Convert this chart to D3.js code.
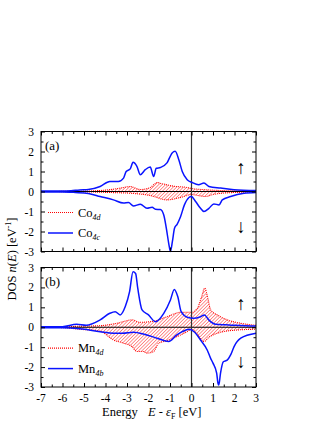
<!DOCTYPE html>
<html>
<head>
<meta charset="utf-8">
<script src="https://cdn.jsdelivr.net/npm/d3@7"></script>
<style>
  body { margin: 0; background: #fff; }
  svg text { font-family: "Liberation Serif", "DejaVu Serif", serif; fill: #000; }
</style>
</head>
<body>
<svg width="327" height="423"></svg>
<script>
// energy axis
var xTicks = [-7, -6, -5, -4, -3, -2, -1, 0, 1, 2, 3];
var yTicks = [-3, -2, -1, 0, 1, 2, 3];

// panel (a): Co 4c (blue) and Co 4d (red hatched), [E, DOS]
var co4cUp = [[-7,0.02],[-6,0.02],[-5.6,0.04],[-5.2,0.08],[-4.8,0.1],[-4.25,0.25],[-3.8,0.5],[-3.4,0.5],[-3.16,0.67],[-3.04,1.0],[-2.85,1.13],[-2.72,1.46],[-2.54,1.26],[-2.38,0.84],[-2.15,1.09],[-1.92,1.22],[-1.76,0.75],[-1.64,1.16],[-1.45,1.2],[-1.14,1.43],[-0.9,1.93],[-0.76,2.01],[-0.59,1.59],[-0.43,1.0],[-0.2,0.59],[0.03,0.45],[0.33,0.34],[0.58,0.42],[0.81,0.25],[1.36,0.17],[1.98,0.09],[3,0.05]];
var co4cDn = [[-7,-0.02],[-6,-0.02],[-5.4,-0.05],[-4.8,-0.1],[-4.25,-0.25],[-3.63,-0.42],[-3.16,-0.58],[-2.93,-0.55],[-2.7,-0.72],[-2.38,-0.64],[-2.07,-0.84],[-1.83,-0.79],[-1.68,-0.89],[-1.45,-0.9],[-1.29,-1.17],[-1.17,-1.84],[-1.06,-2.59],[-0.98,-3.0],[-0.89,-2.51],[-0.79,-1.84],[-0.67,-1.64],[-0.51,-1.26],[-0.33,-0.67],[-0.12,-0.3],[-0.01,-0.25],[0.19,-0.5],[0.39,-0.8],[0.58,-1.0],[0.81,-0.84],[1.04,-0.62],[1.28,-0.67],[1.43,-0.42],[1.82,-0.25],[2.44,-0.09],[3,-0.05]];
var co4dUp = [[-7,0],[-5.5,0.01],[-4.25,0.05],[-3.6,0.12],[-3.16,0.2],[-2.85,0.25],[-2.38,0.1],[-1.92,0.2],[-1.6,0.45],[-1.4,0.4],[-0.86,0.27],[-0.2,0.2],[0,0.15],[0.8,0.08],[2,0.03],[3,0.02]];
var co4dDn = [[-7,0],[-5.5,-0.01],[-3.8,-0.05],[-2.7,-0.1],[-1.92,-0.2],[-1.14,-0.42],[-0.51,-0.3],[0,-0.15],[0.3,-0.2],[0.65,-0.25],[1.0,-0.15],[2,-0.05],[3,-0.03]];

// panel (b): Mn 4b (blue) and Mn 4d (red hatched)
var mn4bUp = [[-7,0.02],[-6,0.03],[-5.34,0.15],[-4.9,0.1],[-4.25,0.37],[-3.8,0.7],[-3.55,0.78],[-3.32,0.62],[-3.08,1.04],[-2.88,1.79],[-2.72,2.79],[-2.6,2.7],[-2.5,1.96],[-2.3,0.87],[-2.0,0.62],[-1.68,0.28],[-1.29,0.7],[-0.98,1.37],[-0.8,1.9],[-0.64,1.54],[-0.48,0.78],[-0.2,0.5],[0.1,0.45],[0.42,0.53],[0.6,0.62],[0.8,0.37],[1.12,0.15],[1.6,0.12],[2,0.1],[3,0.06]];
var mn4bDn = [[-7,-0.02],[-6,-0.03],[-5.2,-0.08],[-4.25,-0.22],[-3.63,-0.3],[-3.2,-0.3],[-2.7,-0.25],[-2.2,-0.35],[-1.6,-0.55],[-1.06,-0.72],[-0.7,-0.4],[-0.43,-0.22],[-0.1,-0.1],[0.15,-0.25],[0.42,-0.64],[0.73,-1.14],[0.89,-1.56],[1.0,-1.8],[1.17,-2.3],[1.23,-2.8],[1.27,-2.9],[1.35,-2.3],[1.48,-1.73],[1.66,-1.65],[1.82,-1.39],[1.98,-0.97],[2.29,-0.55],[3,-0.3]];
var mn4dUp = [[-7,0],[-6,0.01],[-5.3,0.05],[-4.25,0.08],[-3.47,0.2],[-2.77,0.37],[-2.4,0.25],[-1.78,0.3],[-1.14,0.53],[-0.51,0.75],[0,0.75],[0.27,0.95],[0.45,1.46],[0.62,1.96],[0.76,1.46],[0.89,0.87],[1.2,0.62],[1.67,0.37],[2.29,0.2],[3,0.1]];
var mn4dDn = [[-7,0],[-6,-0.02],[-5.2,-0.1],[-4.25,-0.2],[-3.63,-0.64],[-3.16,-0.8],[-2.77,-0.97],[-2.54,-1.22],[-2.23,-1.22],[-2.07,-1.3],[-1.76,-1.22],[-1.53,-0.8],[-1.29,-0.72],[-1.06,-0.64],[-0.67,-0.47],[-0.2,-0.22],[0,-0.1],[0.27,-0.35],[0.58,-0.72],[0.81,-0.5],[1.2,-0.3],[2,-0.15],[3,-0.1]];

var svg = d3.select("svg");
var x = d3.scaleLinear().domain([-7, 3]).range([41, 256]);

var defs = svg.append("defs");
var pat = defs.append("pattern")
  .attr("id", "hatch")
  .attr("patternUnits", "userSpaceOnUse")
  .attr("width", 2.4).attr("height", 2.4)
  .attr("patternTransform", "rotate(45)");
pat.append("line")
  .attr("x1", 0).attr("y1", 0).attr("x2", 0).attr("y2", 2.4)
  .attr("stroke", "#ff2a2a").attr("stroke-width", 1);

function drawPanel(top, bottom, blue, red, tag, names, showX) {
  var y = d3.scaleLinear().domain([-3, 3]).range([bottom, top]);
  var g = svg.append("g");

  var area = d3.area().curve(d3.curveMonotoneX)
    .x(function (d) { return x(d[0]); })
    .y0(y(0))
    .y1(function (d) { return y(d[1]); });
  var line = d3.line().curve(d3.curveMonotoneX)
    .x(function (d) { return x(d[0]); })
    .y(function (d) { return y(d[1]); });

  red.forEach(function (s) {
    g.append("path").attr("d", area(s)).attr("fill", "url(#hatch)").attr("stroke", "none");
    g.append("path").attr("d", line(s)).attr("fill", "none")
      .attr("stroke", "#ff0000").attr("stroke-width", 1.1).attr("stroke-dasharray", "1,1");
  });

  // zero lines
  g.append("line").attr("x1", x(-7)).attr("x2", x(3)).attr("y1", y(0)).attr("y2", y(0))
    .attr("stroke", "#000").attr("stroke-width", 1);
  g.append("line").attr("x1", x(0)).attr("x2", x(0)).attr("y1", y(3)).attr("y2", y(-3))
    .attr("stroke", "#333").attr("stroke-width", 1.2);

  blue.forEach(function (s) {
    g.append("path").attr("d", line(s)).attr("fill", "none")
      .attr("stroke", "#0a14ff").attr("stroke-width", 1.5);
  });

  // frame with inward ticks
  g.append("rect").attr("x", x(-7)).attr("y", y(3))
    .attr("width", x(3) - x(-7)).attr("height", y(-3) - y(3))
    .attr("fill", "none").attr("stroke", "#000").attr("stroke-width", 1);

  var bAx = d3.axisBottom(x).tickValues(d3.range(-7, 3.01, 0.5))
    .tickSize(0).tickFormat("");
  g.append("g").attr("transform", "translate(0," + y(-3) + ")").call(bAx)
    .call(function (a) { a.select(".domain").remove(); })
    .selectAll(".tick line").attr("y2", function (d) { return Number.isInteger(d) ? -4 : -2.5; }).attr("stroke", "#000");
  g.append("g").attr("transform", "translate(0," + y(3) + ")").call(bAx)
    .call(function (a) { a.select(".domain").remove(); })
    .selectAll(".tick line").attr("y2", function (d) { return Number.isInteger(d) ? 4 : 2.5; }).attr("stroke", "#000");

  var lAx = d3.axisLeft(y).tickValues(d3.range(-3, 3.01, 0.5)).tickSize(0).tickFormat("");
  g.append("g").attr("transform", "translate(" + x(-7) + ",0)").call(lAx)
    .call(function (a) { a.select(".domain").remove(); })
    .selectAll(".tick line").attr("x2", function (d) { return Number.isInteger(d) ? 4 : 2.5; }).attr("stroke", "#000");
  g.append("g").attr("transform", "translate(" + x(3) + ",0)").call(lAx)
    .call(function (a) { a.select(".domain").remove(); })
    .selectAll(".tick line").attr("x2", function (d) { return Number.isInteger(d) ? -4 : -2.5; }).attr("stroke", "#000");

  // y tick labels
  g.selectAll(".ylab").data(yTicks).enter().append("text")
    .attr("x", 34).attr("y", function (d) { return y(d) + 4; })
    .attr("text-anchor", "end").attr("font-size", 11.5)
    .text(function (d) { return d; });

  if (showX) {
    g.selectAll(".xlab").data(xTicks).enter().append("text")
      .attr("x", function (d) { return x(d); }).attr("y", bottom + 15)
      .attr("text-anchor", "middle").attr("font-size", 11.5)
      .text(function (d) { return d; });
  }

  g.append("text").attr("x", 45).attr("y", top + 18).attr("font-size", 13).text(tag);

  // spin arrows
  g.append("text").attr("x", x(2.3)).attr("y", top + 42).attr("text-anchor", "middle")
    .attr("font-size", 19).text("\u2191");
  g.append("text").attr("x", x(2.3)).attr("y", bottom - 19).attr("text-anchor", "middle")
    .attr("font-size", 19).text("\u2193");

  // legend
  var ly1 = y(-1) + 1, ly2 = y(-2) + 1.5;
  g.append("line").attr("x1", 48).attr("x2", 73).attr("y1", ly1).attr("y2", ly1)
    .attr("stroke", "#ff0000").attr("stroke-width", 1.2).attr("stroke-dasharray", "1,1");
  g.append("line").attr("x1", 48).attr("x2", 73).attr("y1", ly2).attr("y2", ly2)
    .attr("stroke", "#0a14ff").attr("stroke-width", 1.5);
  [[ly1, names[0]], [ly2, names[1]]].forEach(function (p) {
    var t = g.append("text").attr("x", 78).attr("y", p[0] + 4).attr("font-size", 12.5);
    t.append("tspan").text(p[1][0]);
    t.append("tspan").attr("font-size", 8).attr("font-style", "italic").attr("dy", 3).text(p[1][1]);
  });
}

drawPanel(131.5, 251.5, [co4cUp, co4cDn], [co4dUp, co4dDn], "(a)", [["Co", "4d"], ["Co", "4c"]], false);
drawPanel(267.5, 387, [mn4bUp, mn4bDn], [mn4dUp, mn4dDn], "(b)", [["Mn", "4d"], ["Mn", "4b"]], true);

// axis titles
var yt = svg.append("text").attr("transform", "translate(16,259) rotate(-90)")
  .attr("text-anchor", "middle").attr("font-size", 12.5);
yt.append("tspan").text("DOS ");
yt.append("tspan").attr("font-style", "italic").text("n");
yt.append("tspan").text("(");
yt.append("tspan").attr("font-style", "italic").text("E");
yt.append("tspan").text(") [eV");
yt.append("tspan").attr("font-size", 8).attr("dy", -5).text("-1");
yt.append("tspan").attr("dy", 5).text("]");

svg.append("text").attr("x", 102).attr("y", 416).attr("font-size", 12.5).text("Energy");
var xt = svg.append("text").attr("x", 148).attr("y", 416).attr("font-size", 12.5);
xt.append("tspan").attr("font-style", "italic").text("E");
xt.append("tspan").text(" - ");
xt.append("tspan").attr("font-style", "italic").text("\u03b5");
xt.append("tspan").attr("font-size", 8).attr("dy", 3).text("F");
xt.append("tspan").attr("dy", -3).text(" [eV]");
</script>
</body>
</html>
